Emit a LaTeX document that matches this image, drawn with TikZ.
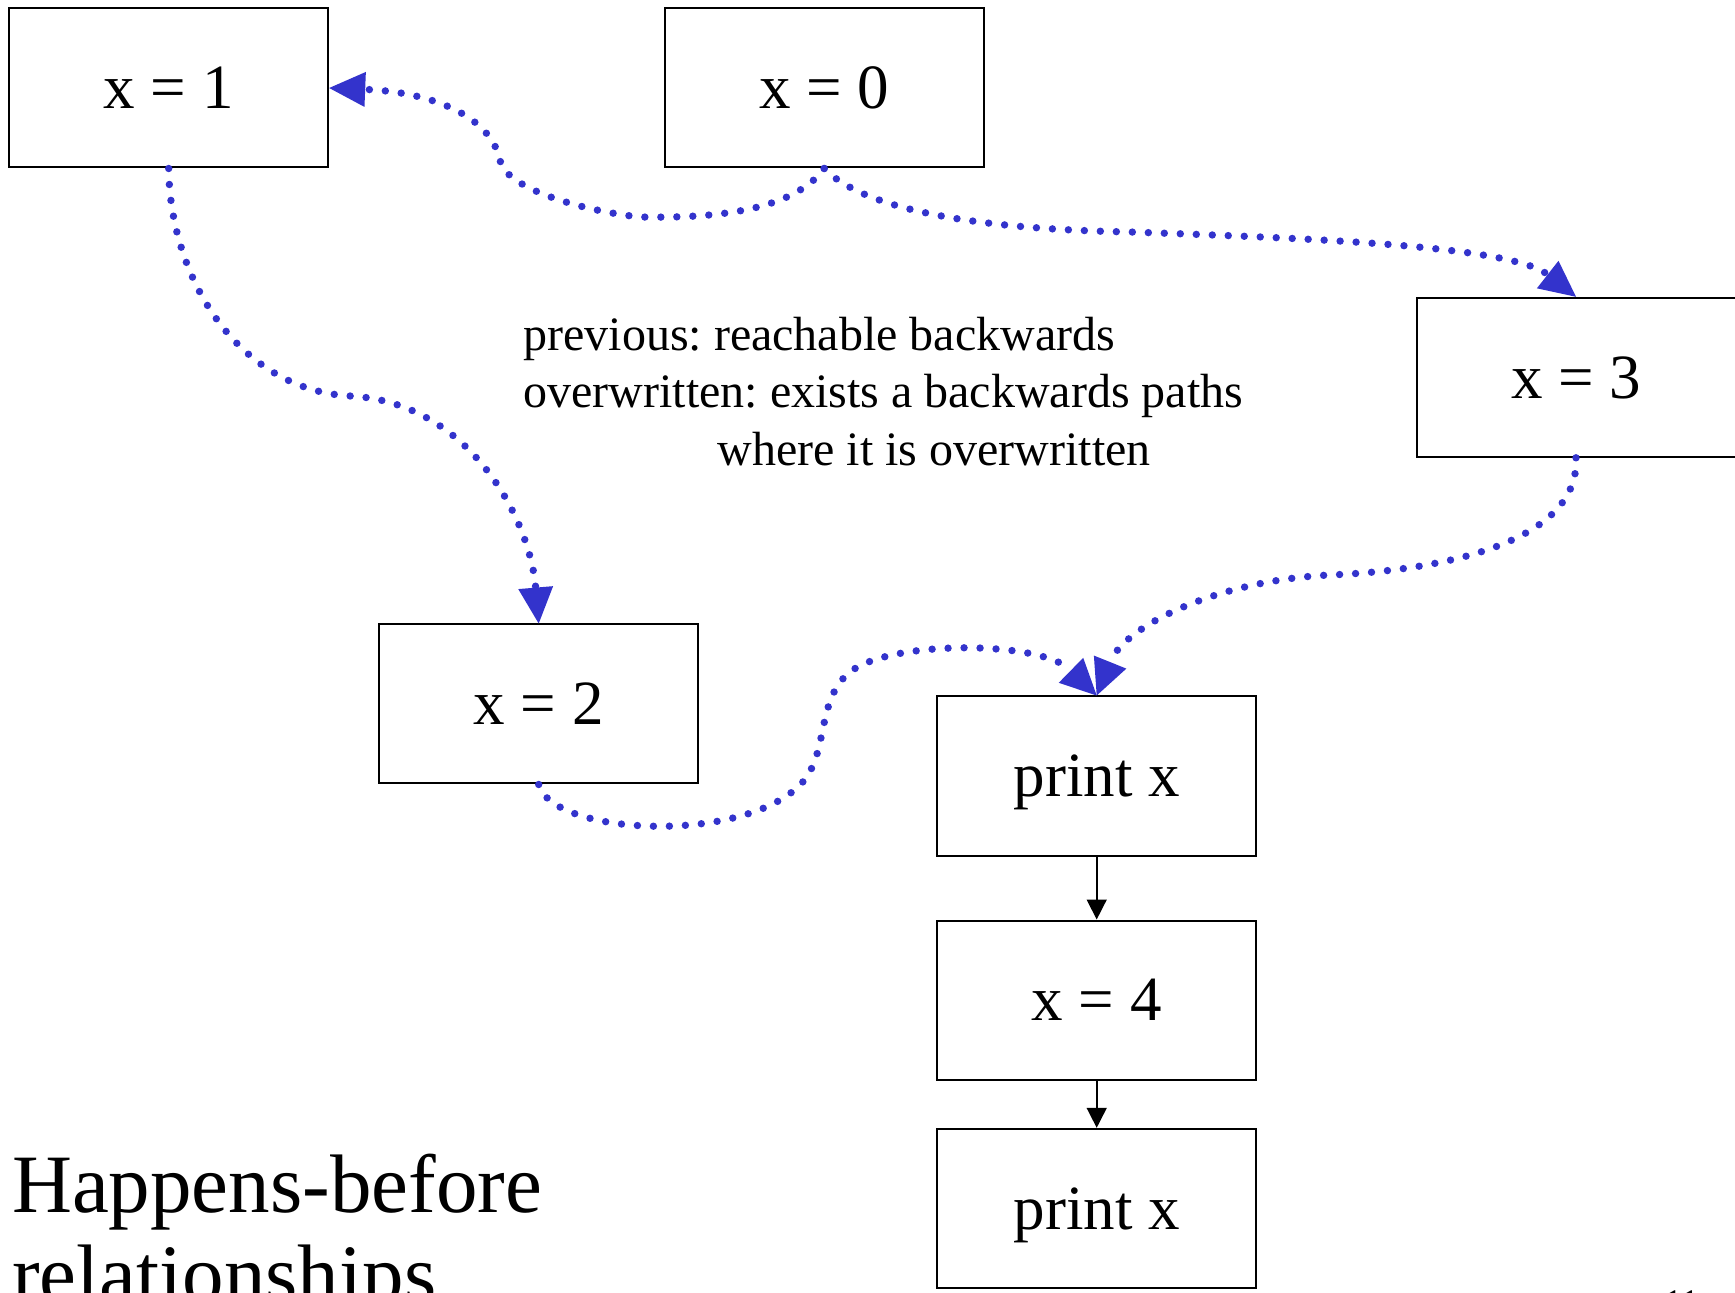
\documentclass[tikz,border=0pt]{standalone}
\usepackage{fontspec}
\setmainfont{Liberation Serif}
\usetikzlibrary{arrows.meta}
\definecolor{hbblue}{RGB}{51,51,204}
\frenchspacing
\begin{document}
\begin{tikzpicture}[x=0.5pt,y=-0.5pt,
  stmt/.style={draw=black, line width=1pt, fill=white, minimum width=159.5pt,
    minimum height=79.5pt, inner sep=0pt, text height=21.4pt, text depth=0.6pt,
    font=\fontsize{31.5}{36}\selectfont},
  hb/.style={draw=hbblue, line width=3.7pt, line cap=round,
    dash pattern=on 0pt off 8pt,
    -{Triangle[length=18pt,width=17.5pt,line width=0pt]}},
  seq/.style={draw=black, line width=0.8pt, -{Triangle[length=10pt,width=10pt]}},
  note/.style={anchor=base west, inner sep=0pt, font=\fontsize{24}{28.75}\selectfont},
  heading/.style={anchor=base west, inner sep=0pt, font=\fontsize{41.5}{45}\selectfont}]

\useasboundingbox (0,0) rectangle (1735,1293);
\clip (0,0) rectangle (1735,1293);
\fill[white] (0,0) rectangle (1735,1293);

% statements
\node[stmt] (x1) at (168.7,88) {x = 1};
\node[stmt] (x0) at (824.2,88) {x = 0};
\node[stmt] (x3) at (1576,377.3) {x = 3};
\node[stmt] (x2) at (538.7,704) {x = 2};
\node[stmt] (p1) at (1096.7,776) {print x};
\node[stmt] (x4) at (1096.7,1000) {x = 4};
\node[stmt] (p2) at (1096.7,1208.3) {print x};

% program order
\draw[seq] (p1.south) -- (x4.north);
\draw[seq] (x4.south) -- (p2.north);

% happens-before edges
\draw[hb] (x0.south) .. controls (790,215) and (700,218) .. (640,217)
  .. controls (590,212) and (505,190) .. (500,160)
  .. controls (490,115) and (430,92) .. (x1.east);
\draw[hb] (x0.south) .. controls (850,195) and (920,228) .. (1130,232)
  .. controls (1300,238) and (1510,245) .. (x3.north);
\draw[hb] (x1.south) .. controls (170,280) and (240,390) .. (350,396)
  .. controls (470,402) and (530,520) .. (x2.north);
\draw[hb] (x3.south) .. controls (1580,540) and (1450,570) .. (1330,575)
  .. controls (1220,580) and (1125,625) .. (p1.north);
\draw[hb] (x2.south) .. controls (552,835) and (740,845) .. (800,785)
  .. controls (830,755) and (815,700) .. (850,672)
  .. controls (890,640) and (1040,640) .. (p1.north);

% explanation
\node[note] (n1) at (523,350.5) {previous: reachable backwards};
\node[note] (n2) at (523,408) {overwritten: exists a backwards paths};
\node[note] (n3) at (717,465.5) {where it is overwritten};

% title and page number
\node[heading] (t1) at (11.7,1212) {Happens-before};
\node[heading] (t2) at (11.7,1302) {relationships};
\node[anchor=base west, inner sep=0pt, font=\fontsize{18}{20}\selectfont] (pg) at (1664,1314) {11};
\end{tikzpicture}
\end{document}
